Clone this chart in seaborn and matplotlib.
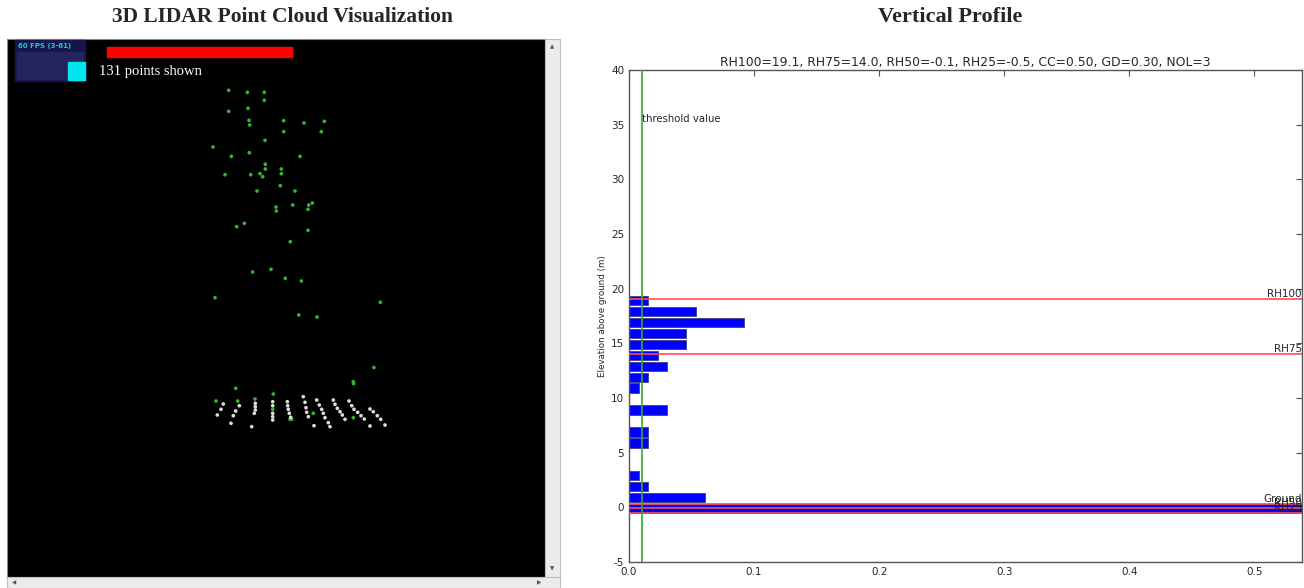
import matplotlib
matplotlib.use("Agg")
import matplotlib.pyplot as plt
from matplotlib.patches import Rectangle
import numpy as np
import pandas as pd
import seaborn as sns

sns.set_style("white")
plt.rcParams["font.family"] = ["DejaVu Sans"]
plt.rcParams["axes.unicode_minus"] = False

# --- point cloud, projected screen positions ---
canopy_x = [228.7, 247.3, 264.3, 264.3, 228.7, 248.0, 249.0, 249.7, 283.7, 304.0,
            324.3, 283.7, 321.3, 265.0, 213.0, 231.3, 249.3, 300.0, 265.3, 265.3,
            281.3, 281.3, 225.0, 250.7, 260.0, 262.7, 280.3, 257.0, 295.0, 276.0,
            292.7, 308.7, 312.3, 276.3, 308.0, 236.7, 244.3, 308.0, 290.3, 252.7,
            271.0, 285.3, 301.3, 215.0, 380.3, 298.7, 317.0, 373.9, 353.6, 235.7,
            216.0, 237.7, 255.0, 273.3, 272.7, 290.0, 353.3, 313.3, 353.3, 291.7]
canopy_y = [90.3, 92.3, 92.3, 100.3, 111.3, 108.3, 120.3, 125.0, 120.7, 123.0,
            121.3, 131.7, 131.7, 140.3, 147.0, 156.3, 152.7, 156.3, 164.3, 169.0,
            169.0, 173.7, 174.7, 174.7, 173.7, 176.7, 185.7, 191.0, 191.0, 207.0,
            205.0, 205.0, 203.0, 211.0, 209.3, 226.7, 223.3, 230.3, 241.7, 272.0,
            269.3, 278.3, 281.0, 297.7, 302.3, 315.0, 317.0, 367.5, 383.6, 388.3,
            401.0, 401.0, 399.0, 394.0, 409.3, 419.3, 381.7, 413.3, 417.7, 419.3]
ground_x = [223.3, 221.0, 217.3, 233.3, 235.7, 239.3, 231.0, 251.7, 255.3, 255.3,
            255.3, 254.3, 272.7, 272.7, 272.7, 272.7, 272.7, 287.3, 287.7, 288.3,
            289.3, 290.7, 303.3, 305.0, 306.0, 306.7, 308.3, 314.0, 316.7, 319.3,
            321.7, 323.3, 325.0, 328.3, 330.0, 333.3, 335.0, 337.3, 340.0, 342.3,
            345.0, 349.0, 351.7, 354.0, 357.7, 361.0, 364.3, 370.0, 373.3, 377.3,
            380.7, 385.0, 370.0]
ground_y = [404.0, 409.3, 415.0, 415.7, 411.0, 405.7, 423.3, 426.7, 403.3, 406.7,
            410.0, 413.3, 401.7, 405.7, 413.3, 416.7, 420.0, 401.7, 405.7, 409.3,
            413.3, 417.3, 396.7, 402.3, 407.7, 412.3, 416.7, 425.7, 400.0, 405.0,
            409.3, 413.3, 417.7, 422.7, 426.7, 400.0, 404.3, 408.3, 411.7, 415.0,
            419.3, 401.0, 405.7, 409.3, 412.3, 415.7, 419.0, 409.0, 411.7, 415.7,
            419.3, 425.0, 426.0]

# --- vertical profile ---
bin_centers = [-0.1, 0.9, 1.9, 2.9, 3.9, 4.9, 5.9, 6.9, 7.9, 8.9,
               9.9, 10.9, 11.9, 12.9, 13.9, 14.9, 15.9, 16.9, 17.9, 18.9]
fractions = [0.538, 0.061, 0.0153, 0.0076, 0.0, 0.0, 0.0153, 0.0153, 0.0, 0.0305,
             0.0, 0.0076, 0.0153, 0.0305, 0.0229, 0.0458, 0.0458, 0.0916, 0.0534, 0.0153]
metric_names = ["RH100", "RH75", "Ground", "RH50", "RH25"]
metric_values = [19.1, 14.0, 0.3, -0.1, -0.5]
threshold = 0.01
title_txt = "RH100=19.1, RH75=14.0, RH50=-0.1, RH25=-0.5, CC=0.50, GD=0.30, NOL=3"

cloud = pd.concat([
    pd.DataFrame({"x": canopy_x, "y": canopy_y, "cls": "canopy"}),
    pd.DataFrame({"x": ground_x, "y": ground_y, "cls": "ground"}),
])
prof = pd.DataFrame({"elev": bin_centers, "frac": fractions})
prof = prof[prof["frac"] > 0]

fig = plt.figure(figsize=(13.04, 5.88), dpi=100)
W, H = 1304, 588

def fa(x0, y0, x1, y1):
    return [x0 / W, 1 - y1 / H, (x1 - x0) / W, (y1 - y0) / H]

# headers
fig.text(283 / W, 1 - 17 / H, "3D LIDAR Point Cloud Visualization", ha="center", va="center",
         fontsize=15.5, fontweight="bold", family="Liberation Serif")
fig.text(950 / W, 1 - 17 / H, "Vertical Profile", ha="center", va="center",
         fontsize=16, fontweight="bold", family="Liberation Serif")

# left: viewer
ax1 = fig.add_axes(fa(7, 39, 545, 577))
ax1.set_facecolor("black")
sns.scatterplot(data=cloud, x="x", y="y", hue="cls", palette={"canopy": "#36b436", "ground": "#dcdcdc"},
                s=7, linewidth=0, legend=False, ax=ax1)
ax1.set_xlim(7, 545)
ax1.set_ylim(577, 39)
ax1.set_xticks([])
ax1.set_yticks([])
ax1.set_xlabel("")
ax1.set_ylabel("")
for sp in ax1.spines.values():
    sp.set_color("#888888")
# fps box
ax1.add_patch(Rectangle((15, 40), 70, 41, color="#14164a", zorder=3))
ax1.add_patch(Rectangle((17, 52), 66, 27, color="#23265e", zorder=3))
ax1.add_patch(Rectangle((68, 62), 17, 18, color="#00e5ee", zorder=4))
ax1.text(18, 45.5, "60 FPS (3-61)", color="#20c8e0", fontsize=5, fontweight="bold", va="center", zorder=5)
ax1.add_patch(Rectangle((107, 47), 185, 10, color="#ff0000", zorder=3))
ax1.text(99, 71, "131 points shown", color="white", fontsize=10.5, family="Liberation Serif",
         va="center", zorder=5)

# scrollbars
sv = fig.add_axes(fa(545, 39, 560, 577))
sv.set_facecolor("#ececec")
sv.set_xticks([]); sv.set_yticks([])
for sp in sv.spines.values():
    sp.set_color("#bdbdbd")
sv.text(0.5, 0.985, "\u25b2", transform=sv.transAxes, ha="center", va="center", fontsize=4, color="#555")
sv.text(0.5, 0.015, "\u25bc", transform=sv.transAxes, ha="center", va="center", fontsize=4, color="#555")
sh = fig.add_axes(fa(7, 577, 560, 588))
sh.set_facecolor("#ececec")
sh.set_xticks([]); sh.set_yticks([])
for sp in sh.spines.values():
    sp.set_color("#bdbdbd")
sh.text(0.012, 0.5, "\u25c0", transform=sh.transAxes, ha="center", va="center", fontsize=4, color="#555")
sh.text(0.962, 0.5, "\u25b6", transform=sh.transAxes, ha="center", va="center", fontsize=4, color="#555")

# right: profile
ax2 = fig.add_axes(fa(629, 70, 1302, 562))
edges = [round(c - 0.5, 2) for c in bin_centers] + [round(bin_centers[-1] + 0.5, 2)]
sns.histplot(data=prof, y="elev", weights="frac", bins=edges, shrink=0.86,
             color="#0000ff", alpha=1, edgecolor="#404080", linewidth=0.6, ax=ax2)
for name, val in zip(metric_names, metric_values):
    ax2.axhline(val, color="#ff4d4d", lw=1.4, alpha=0.85, zorder=3)
ax2.axvline(threshold, color="#33aa33", lw=1.2, zorder=3)
ax2.text(threshold, 35.5, "threshold value", fontsize=7.3, va="center", ha="left")
xmax = max(fractions)
for name, val in zip(metric_names, metric_values):
    ax2.text(xmax, val, name, fontsize=7.5, ha="right", va="bottom", zorder=4)
ax2.set_xlim(0, xmax)
ax2.set_ylim(-5, 40)
ax2.set_xticks(np.arange(0, 0.51, 0.1))
ax2.set_yticks(np.arange(-5, 41, 5))
ax2.set_xlabel("")
ax2.set_ylabel("Elevation above ground (m)", fontsize=6.3, labelpad=3)
ax2.set_title(title_txt, fontsize=8.9, pad=3)
ax2.tick_params(direction="in", top=True, right=True, length=4, labelsize=7.5, color="#555")
for sp in ax2.spines.values():
    sp.set_color("#555555")
    sp.set_linewidth(1.0)

fig.savefig("out.png", dpi=100)
